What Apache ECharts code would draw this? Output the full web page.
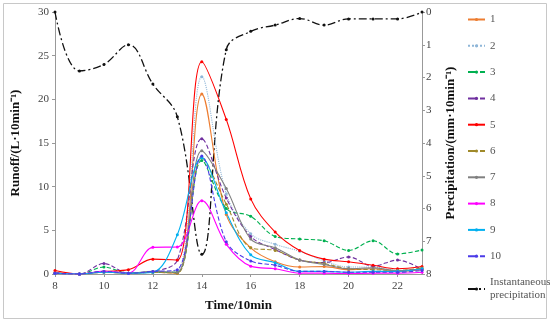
<!DOCTYPE html>
<html><head><meta charset="utf-8">
<script src="https://cdn.jsdelivr.net/npm/echarts@6/dist/echarts.min.js"></script>
<style>html,body{margin:0;padding:0;background:#fff}#c{width:550px;height:323px}</style>
</head><body><div id="c"></div>
<script>
const times = [8,9,10,11,12,13,14,15,16,17,18,19,20,21,22,23];
const s1 = [0.2,0,0.2,0.1,0.2,0.1,20.6,6.8,3.0,1.4,0.8,0.85,0.5,0.6,0.3,0.5];
const s2 = [0.1,0,0.3,0.1,0.2,0.3,22.6,9.2,4.6,3.4,2.6,1.5,0.8,0.8,0.4,0.6];
const s3 = [0.1,0,0.8,0.1,0.2,0.2,13.0,7.5,6.6,4.3,4.0,3.8,2.7,3.8,2.3,2.75];
const s4 = [0.1,0,1.2,0.1,0.3,1.6,15.5,8.7,4.3,2.8,1.6,1.3,1.95,0.9,1.6,0.5];
const s5 = [0.4,0,0.3,0.5,1.7,1.6,24.3,17.7,8.6,4.8,2.7,1.7,1.4,1.0,0.6,0.85];
const s6 = [0.1,0,0.2,0.1,0.2,0.1,13.3,8.0,3.0,2.7,1.6,1.2,0.6,0.5,0.4,0.7];
const s7 = [0.1,0,0.3,0.1,0.3,0.2,14.1,9.8,4.0,3.0,1.6,1.1,0.6,0.7,0.4,0.6];
const s8 = [0.1,0,0.3,0.1,3.05,3.1,8.4,3.4,0.9,0.6,0.1,0.1,0.05,0.1,0.1,0.2];
const s9 = [0.1,0,0.2,0.1,0.2,4.5,13.3,7.0,2.2,1.3,0.3,0.3,0.2,0.3,0.3,0.6];
const s10 = [0.1,0,0.3,0.1,0.3,0.5,13.5,3.7,1.5,1.0,0.3,0.3,0.2,0.2,0.2,0.4];
const precip = [0,1.8,1.6,1.0,2.2,3.2,7.4,1.15,0.59,0.4,0.2,0.4,0.21,0.21,0.21,0];
const seriesNames = ['1','2','3','4','5','6','7','8','9','10'];
const precipName = 'Instantaneous\nprecipitation';
const runoffTicks = [0,5,10,15,20,25,30];
const precipTicks = [0,1,2,3,4,5,6,7,8];

const runoff = [s1,s2,s3,s4,s5,s6,s7,s8,s9,s10];
const colors = ['#ED7D31','#8FB6D8','#00B050','#7030A0','#FF0000','#A08A2A','#808080','#FF00FF','#00B0F0','#4B3BE8'];
const types = ['solid','dotted','dashed','dashed','solid','dashed','solid','solid','solid','dashed'];
const pairs = arr => arr.map((v,i)=>[times[i],v]);
const font = '"Liberation Serif","Times New Roman",serif';

const series = runoff.map((arr,i)=>({
  name: seriesNames[i], type:'line', smooth:0.35, data:pairs(arr),
  symbol:'circle', symbolSize:3, yAxisIndex:0,
  lineStyle:{color:colors[i], width:1.1, type:types[i]},
  itemStyle:{color:colors[i]}, z: 3
}));
series.push({
  name: precipName, type:'line', smooth:0.4, data:pairs(precip), yAxisIndex:1,
  symbol:'circle', symbolSize:3,
  lineStyle:{color:'#111', width:1.3, type:[8,3,2,3]}, itemStyle:{color:'#111'}, z:2
});

const chart = echarts.init(document.getElementById('c'));
chart.setOption({
  animation:false,
  textStyle:{fontFamily:font},
  graphic:[{type:'rect', shape:{x:3.5,y:3.5,width:543,height:315}, style:{fill:'none', stroke:'#c8c8c8', lineWidth:1}, silent:true}],
  grid:{left:55, right:128, top:12, bottom:49},
  legend:{
    orient:'vertical', left:462, top:8, itemGap:13.3, itemWidth:17, itemHeight:4,
    textStyle:{fontFamily:font, fontSize:11, color:'#555', lineHeight:13},
    data:[...seriesNames, precipName]
  },
  xAxis:{
    type:'value', min:8, max:23, interval:2,
    name:'Time/10min', nameLocation:'middle', nameGap:25,
    nameTextStyle:{fontFamily:font, fontSize:13, fontWeight:'bold', color:'#111'},
    axisLine:{lineStyle:{color:'#999'}}, axisTick:{length:3, lineStyle:{color:'#999'}},
    axisLabel:{fontFamily:font, fontSize:11, color:'#444', margin:7, showMaxLabel:false},
    splitLine:{show:false}
  },
  yAxis:[{
    type:'value', min:0, max:30, interval:5, position:'left',
    name:'Runoff/(L·10min⁻¹)', nameLocation:'middle', nameGap:33,
    nameTextStyle:{fontFamily:font, fontSize:13, fontWeight:'bold', color:'#111'},
    axisLine:{show:true, lineStyle:{color:'#999'}}, axisTick:{show:true, length:3, lineStyle:{color:'#999'}},
    axisLabel:{fontFamily:font, fontSize:11, color:'#444', margin:6},
    splitLine:{show:false}
  },{
    type:'value', min:0, max:8, interval:1, position:'right', inverse:true,
    name:'Precipitation/(mm·10min⁻¹)', nameLocation:'middle', nameGap:22, nameRotate:90,
    nameTextStyle:{fontFamily:font, fontSize:13, fontWeight:'bold', color:'#111'},
    axisLine:{show:true, lineStyle:{color:'#999'}}, axisTick:{show:true, length:3, lineStyle:{color:'#999'}},
    axisLabel:{fontFamily:font, fontSize:11, color:'#444', margin:4},
    splitLine:{show:false}
  }],
  series
});
</script></body></html>
